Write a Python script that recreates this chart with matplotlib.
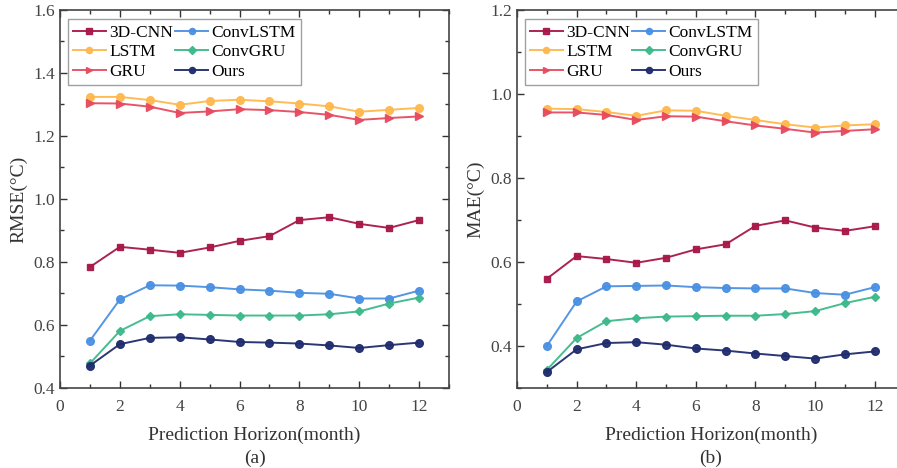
import numpy as np
import matplotlib
matplotlib.use("Agg")
import matplotlib.pyplot as plt
from matplotlib.ticker import MultipleLocator

plt.rcParams['font.family'] = ['Liberation Serif', 'DejaVu Serif']
plt.rcParams['mathtext.fontset'] = 'stix'

# prediction horizon (months)
months = np.arange(1, 13)

# RMSE values (panel a)
rmse_3dcnn = [0.784, 0.848, 0.839, 0.829, 0.846, 0.867, 0.882, 0.933, 0.942, 0.921, 0.908, 0.933]
rmse_lstm = [1.324, 1.324, 1.314, 1.299, 1.311, 1.315, 1.310, 1.303, 1.294, 1.277, 1.283, 1.289]
rmse_gru = [1.304, 1.303, 1.293, 1.273, 1.278, 1.285, 1.282, 1.276, 1.267, 1.251, 1.257, 1.262]
rmse_convlstm = [0.550, 0.681, 0.726, 0.725, 0.720, 0.713, 0.709, 0.702, 0.699, 0.684, 0.684, 0.709]
rmse_convgru = [0.478, 0.581, 0.628, 0.634, 0.632, 0.630, 0.630, 0.630, 0.634, 0.643, 0.668, 0.687]
rmse_ours = [0.471, 0.539, 0.559, 0.561, 0.554, 0.546, 0.544, 0.541, 0.535, 0.527, 0.536, 0.544]

# MAE values (panel b)
mae_3dcnn = [0.560, 0.614, 0.607, 0.598, 0.610, 0.630, 0.642, 0.686, 0.699, 0.682, 0.674, 0.685]
mae_lstm = [0.965, 0.964, 0.957, 0.948, 0.961, 0.960, 0.948, 0.938, 0.928, 0.920, 0.925, 0.928]
mae_gru = [0.956, 0.956, 0.950, 0.938, 0.947, 0.946, 0.935, 0.925, 0.917, 0.908, 0.912, 0.916]
mae_convlstm = [0.400, 0.506, 0.542, 0.543, 0.544, 0.540, 0.538, 0.537, 0.537, 0.526, 0.522, 0.540]
mae_convgru = [0.343, 0.419, 0.459, 0.466, 0.470, 0.471, 0.472, 0.472, 0.476, 0.483, 0.502, 0.517]
mae_ours = [0.338, 0.392, 0.407, 0.409, 0.403, 0.394, 0.389, 0.382, 0.376, 0.370, 0.380, 0.387]

names = ['3D-CNN', 'LSTM', 'GRU', 'ConvLSTM', 'ConvGRU', 'Ours']
colors = ['#A8174A', '#FFB84D', '#E84A5F', '#4A90E2', '#3CB98A', '#1F2C6E']
markers = ['s', 'o', '>', 'o', 'D', 'o']
msizes = [5, 5.5, 5.5, 5.5, 4.5, 5.5]

rmse_all = [rmse_3dcnn, rmse_lstm, rmse_gru, rmse_convlstm, rmse_convgru, rmse_ours]
mae_all = [mae_3dcnn, mae_lstm, mae_gru, mae_convlstm, mae_convgru, mae_ours]

fig = plt.figure(figsize=(8.97, 4.68), dpi=100)
ax1 = fig.add_axes([0.0669, 0.171, 0.4337, 0.8077])
ax2 = fig.add_axes([0.5764, 0.171, 0.432, 0.8077])


def draw_panel(ax, data, ylabel, ylim, tag):
    for vals, name, c, m, ms in zip(data, names, colors, markers, msizes):
        ax.plot(months, vals, color=c, marker=m, markersize=ms, linewidth=1.4,
                label=name, alpha=0.95)
    ax.set_xlim(0, 13)
    ax.set_ylim(*ylim)
    ax.xaxis.set_major_locator(MultipleLocator(2))
    ax.xaxis.set_minor_locator(MultipleLocator(1))
    ax.yaxis.set_major_locator(MultipleLocator(0.2))
    ax.yaxis.set_minor_locator(MultipleLocator(0.1))
    ax.tick_params(which='both', direction='in', top=True, right=True,
                   labelsize=12.5, colors='#333333', labelcolor='#444444')
    ax.tick_params(which='major', length=5, width=1)
    ax.tick_params(which='minor', length=3, width=1)
    ax.xaxis.set_tick_params(pad=8)
    for sp in ax.spines.values():
        sp.set_color('#444444')
        sp.set_linewidth(1.2)
    ax.yaxis.set_major_formatter(plt.FuncFormatter(lambda v, p: f'{v:.1f}'))
    ax.set_xlabel('Prediction Horizon(month)', fontsize=14, color='#333333', labelpad=8)
    ax.set_ylabel(ylabel, fontsize=14, color='#333333', labelpad=4)
    ax.text(0.5, -0.186, tag, transform=ax.transAxes, ha='center', va='center',
            fontsize=14, color='#333333')
    h, l = ax.get_legend_handles_labels()
    leg = ax.legend(h, l, ncol=2, loc='upper left', bbox_to_anchor=(0.02, 0.975),
                    fontsize=12.5, frameon=True, fancybox=False, edgecolor='#888888',
                    handlelength=1.9, handletextpad=0.2, columnspacing=0.1,
                    labelspacing=0.2, borderpad=0.3, borderaxespad=0, markerscale=0.8)
    leg.get_frame().set_linewidth(1.0)


draw_panel(ax1, rmse_all, 'RMSE(°C)', (0.4, 1.6), '(a)')
draw_panel(ax2, mae_all, 'MAE(°C)', (0.3, 1.2), '(b)')

fig.savefig('out.png', dpi=100)
